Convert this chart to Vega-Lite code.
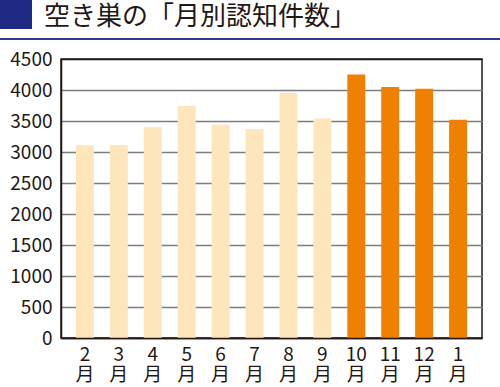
{
  "$schema": "https://vega.github.io/schema/vega-lite/v6.json",
  "padding": {"left": 0, "top": 0, "right": 0, "bottom": 0},
  "spacing": 5,
  "config": {"font": "Noto Sans CJK JP"},
  "vconcat": [
    {
      "spacing": 0,
      "vconcat": [
        {
          "spacing": 10,
          "bounds": "flush",
          "hconcat": [
            {
              "width": 32,
              "height": 29,
              "view": {"stroke": null, "fill": "#1f2a85"},
              "data": {"values": [{"t": ""}]},
              "mark": {"type": "text"},
              "encoding": {"text": {"field": "t"}}
            },
            {
              "width": 316,
              "height": 33,
              "view": {"stroke": null},
              "data": {"values": [{"t": "空き巣の「月別認知件数」"}]},
              "mark": {"type": "text", "fontSize": 26, "color": "#231815", "baseline": "middle"},
              "encoding": {"text": {"field": "t"}}
            }
          ]
        },
        {
          "width": 500,
          "height": 2,
          "view": {"stroke": null, "fill": "#2e3a93"},
          "data": {"values": [{"t": ""}]},
          "mark": {"type": "text"},
          "encoding": {"text": {"field": "t"}}
        }
      ]
    },
    {
      "spacing": 10,
      "bounds": "flush",
      "hconcat": [
        {
          "width": 51,
          "height": 279,
          "view": {"stroke": null},
          "data": {"values": [{"t": ""}]},
          "mark": {"type": "text"},
          "encoding": {"text": {"field": "t"}}
        },
        {
          "width": 421,
          "height": 279,
          "view": {"stroke": "#231815", "strokeWidth": 1.5},
          "data": {
            "values": [
              {"month": "2", "count": 3110, "period": "a"},
              {"month": "3", "count": 3110, "period": "a"},
              {"month": "4", "count": 3400, "period": "a"},
              {"month": "5", "count": 3740, "period": "a"},
              {"month": "6", "count": 3440, "period": "a"},
              {"month": "7", "count": 3370, "period": "a"},
              {"month": "8", "count": 3950, "period": "a"},
              {"month": "9", "count": 3540, "period": "a"},
              {"month": "10", "count": 4250, "period": "b"},
              {"month": "11", "count": 4050, "period": "b"},
              {"month": "12", "count": 4020, "period": "b"},
              {"month": "1", "count": 3520, "period": "b"}
            ]
          },
          "mark": {"type": "bar"},
          "encoding": {
            "x": {
              "field": "month",
              "type": "nominal",
              "sort": null,
              "scale": {"paddingInner": 0.47, "paddingOuter": 0.44},
              "axis": {
                "title": null,
                "labelAngle": 0,
                "ticks": false,
                "domain": true,
                "domainColor": "#231815",
                "domainWidth": 1.5,
                "zindex": 1,
                "labelExpr": "[datum.label, '月']",
                "labelFontSize": 19,
                "labelLineHeight": 20,
                "labelPadding": 7,
                "labelColor": "#231815"
              }
            },
            "y": {
              "field": "count",
              "type": "quantitative",
              "scale": {"domain": [0, 4500], "nice": false},
              "axis": {
                "title": null,
                "format": "d",
                "values": [0, 500, 1000, 1500, 2000, 2500, 3000, 3500, 4000, 4500],
                "grid": true,
                "gridColor": {"condition": {"test": "datum.value == 0 || datum.value == 4500", "value": "#231815"}, "value": "#7d7d7d"},
                "gridWidth": 1.5,
                "ticks": false,
                "domain": true,
                "domainColor": "#231815",
                "domainWidth": 1.5,
                "labelPadding": 9,
                "labelFontSize": 19,
                "labelColor": "#231815"
              }
            },
            "color": {
              "field": "period",
              "type": "nominal",
              "scale": {"domain": ["a", "b"], "range": ["#fde6bb", "#f08000"]},
              "legend": null
            }
          }
        }
      ]
    }
  ]
}
